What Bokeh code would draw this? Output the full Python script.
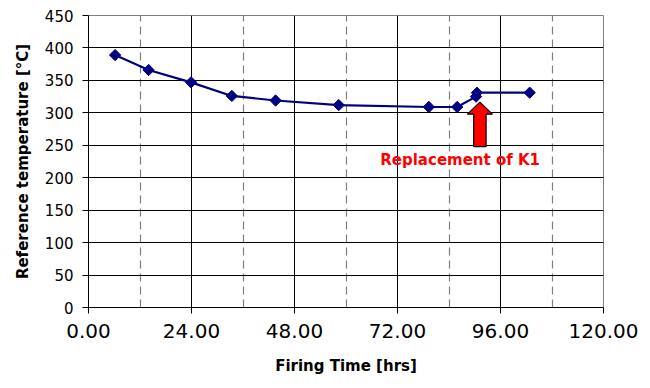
import math
from bokeh.plotting import figure
from bokeh.models import FixedTicker, NumeralTickFormatter, Range1d, Label
from bokeh.embed import file_html
from bokeh.resources import INLINE

# Data
firing_time = [6.2, 14.0, 23.9, 33.4, 43.6, 58.3, 79.3, 85.9, 90.3, 90.5, 102.8]
ref_temp = [389, 366, 347, 326, 319, 312, 309, 309, 325, 331, 331]
x_ticks = [0, 24, 48, 72, 96, 120]
x_minor = [12, 36, 60, 84, 108]
y_ticks = [0, 50, 100, 150, 200, 250, 300, 350, 400, 450]

annot_text = "Replacement of K1"
annot_text_x = 86.6
annot_text_y = 228
arrow_x = 91.2
arrow_tip_y = 316.5
arrow_base_y = 248

FONT = "DejaVu Sans"

p = figure(width=650, height=388, output_backend="svg", toolbar_location=None,
           x_range=Range1d(0, 120), y_range=Range1d(0, 450),
           min_border_left=88, min_border_right=47, min_border_top=15, min_border_bottom=81)
p.background_fill_color = "white"
p.border_fill_color = "white"
p.outline_line_color = "#808080"
p.outline_line_width = 1

# axes
p.xaxis.ticker = FixedTicker(ticks=x_ticks)
p.xaxis.formatter = NumeralTickFormatter(format="0.00")
p.yaxis.ticker = FixedTicker(ticks=y_ticks)
for ax in (p.xaxis[0], p.yaxis[0]):
    ax.axis_line_color = "black"
    ax.major_tick_line_color = "black"
    ax.major_tick_in = 0
    ax.major_tick_out = 6
    ax.minor_tick_line_color = None
    ax.major_label_text_color = "black"
    ax.major_label_text_font = FONT
    ax.axis_label_text_font = FONT
    ax.axis_label_text_font_style = "bold"
    ax.axis_label_text_font_size = "15px"
    ax.axis_label_text_color = "black"
p.xaxis.major_label_text_font_size = "20px"
p.yaxis.major_label_text_font_size = "15px"
p.xaxis.major_label_standoff = 10
p.yaxis.major_label_standoff = 9
p.xaxis.axis_label = "Firing Time [hrs]"
p.yaxis.axis_label = "Reference temperature [°C]"
p.xaxis.axis_label_standoff = 16
p.yaxis.axis_label_standoff = 10

# grids
p.xgrid.ticker = FixedTicker(ticks=x_ticks[1:-1], minor_ticks=x_minor)
p.xgrid.grid_line_color = "black"
p.xgrid.grid_line_width = 1
p.xgrid.minor_grid_line_color = "#7f7f7f"
p.xgrid.minor_grid_line_dash = "8 5"
p.xgrid.minor_grid_line_width = 1.2
p.ygrid.ticker = FixedTicker(ticks=y_ticks[1:-1])
p.ygrid.grid_line_color = "black"
p.ygrid.grid_line_width = 1

# series
p.line(firing_time, ref_temp, line_color="#000080", line_width=2.2)
p.scatter(firing_time, ref_temp, marker="square", size=8, angle=math.pi / 4,
          fill_color="#000080", line_color="#000080")

# block arrow (widths in data units derived from the frame scale)
sx = 120 / 515.0   # data units per pixel in x
sy = 450 / 292.0   # data units per pixel in y
shaft_hw = 6.2 * sx
head_hw = 12.5 * sx
head_h = 12 * sy
ax_ = [arrow_x - shaft_hw, arrow_x - shaft_hw, arrow_x - head_hw, arrow_x,
       arrow_x + head_hw, arrow_x + shaft_hw, arrow_x + shaft_hw]
ay_ = [arrow_base_y, arrow_tip_y - head_h, arrow_tip_y - head_h, arrow_tip_y,
       arrow_tip_y - head_h, arrow_tip_y - head_h, arrow_base_y]
p.patch(ax_, ay_, fill_color="#ff0000", line_color="black", line_width=1.2)

lbl = Label(x=annot_text_x, y=annot_text_y, text=annot_text,
            text_align="center", text_baseline="middle",
            text_font=FONT, text_font_style="bold", text_font_size="15px",
            text_color="#ff0000")
p.add_layout(lbl)

open("out.html", "w").write(file_html(p, INLINE))
